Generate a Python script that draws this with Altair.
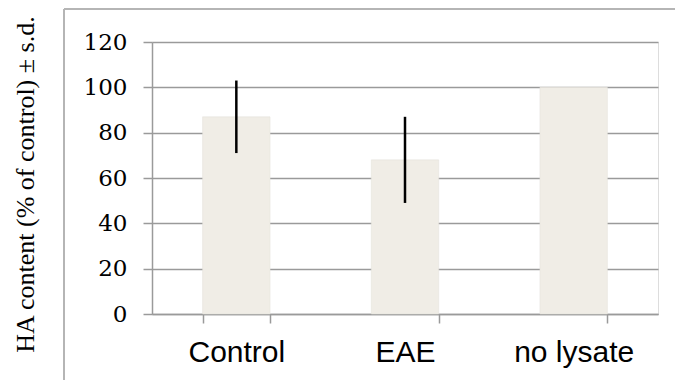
import altair as alt
import pandas as pd

categories = ["Control", "EAE", "no lysate"]
means = [87, 68, 100]
sds = [16, 19, 0]
y_ticks = [0, 20, 40, 60, 80, 100, 120]

df = pd.DataFrame({"cat": categories, "mean": means, "sd": sds})
df["lo"] = df["mean"] - df["sd"]
df["hi"] = df["mean"] + df["sd"]

GRID = "#9a9a9a"

xenc = alt.X("cat:N", sort=categories, title=None,
             scale=alt.Scale(paddingInner=0.6, paddingOuter=0.3),
             axis=alt.Axis(labelAngle=0, labelFont="Liberation Sans", labelFontSize=30,
                           labelColor="#000000", tickBand="extent", tickSize=9,
                           tickColor=GRID, tickWidth=1.5, domainColor=GRID,
                           domainWidth=1.5, labelPadding=14, grid=False))

yscale = alt.Scale(domain=[0, 120], nice=False)

bars = alt.Chart(df).mark_bar(color="#f0ede6", stroke="#e2e0da", strokeWidth=0.5).encode(
    x=xenc,
    y=alt.Y("mean:Q", scale=yscale, title="HA content (% of control) ± s.d.",
            axis=alt.Axis(values=y_ticks, grid=True, gridColor=GRID, gridWidth=1.5,
                          tickSize=9, tickColor=GRID, tickWidth=1.5,
                          domainColor=GRID, domainWidth=1.5,
                          labelFont="DejaVu Serif", labelFontSize=23,
                          labelColor="#000000", labelPadding=16,
                          titleFont="Liberation Serif", titleFontSize=26,
                          titleFontWeight="normal", titleColor="#000000",
                          titleX=-119, titleY=142, titleAlign="center",
                          titleBaseline="alphabetic", titleAngle=-90)),
)

errs = alt.Chart(df).transform_filter("datum.sd > 0").mark_rule(
    color="#000000", strokeWidth=2.5).encode(
    x=alt.X("cat:N", sort=categories),
    y=alt.Y("lo:Q", scale=yscale),
    y2="hi:Q",
)

frame_top = alt.Chart(df).mark_rule(color="#b5b5b5", strokeWidth=1.5).encode(
    x=alt.value(-88), x2=alt.value(700), y=alt.value(-33))
frame_left = alt.Chart(df).mark_rule(color="#b5b5b5", strokeWidth=1.5).encode(
    x=alt.value(-88), y=alt.value(-33), y2=alt.value(500))

chart = alt.layer(bars, errs, frame_top, frame_left).properties(
    width=506, height=272,
    autosize=alt.AutoSizeParams(type="none"),
    padding={"left": 144, "top": 34, "right": 17, "bottom": 66},
).configure_view(stroke=None).configure(background="white")

chart.save("out.html", embed_options={"renderer": "svg", "actions": False})
